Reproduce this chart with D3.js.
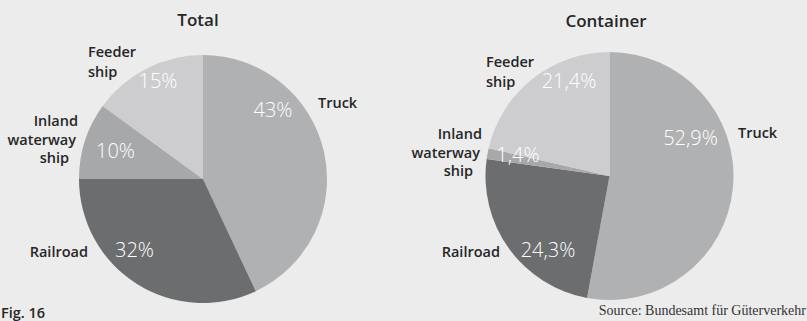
<!DOCTYPE html>
<html>
<head>
<meta charset="utf-8">
<script src="https://cdn.jsdelivr.net/npm/d3@7"></script>
<style>
  html, body { margin: 0; padding: 0; background: #ececec; }
  svg { display: block; }
  .name { font-family: "Open Sans", "Noto Sans", sans-serif; font-weight: 600; font-size: 14.5px; fill: #262626; }
  .title { font-family: "Open Sans", "Noto Sans", sans-serif; font-weight: 600; font-size: 17px; fill: #262626; }
  .pct { font-family: "Open Sans", sans-serif; font-weight: 300; font-size: 20px; fill: #ffffff; }
  .source { font-family: "Liberation Serif", serif; font-size: 14px; fill: #333; }
</style>
</head>
<body>
<svg id="chart" width="807" height="321"></svg>
<script>
// Modal split of hinterland transport, shares in percent
const categories = ["Truck", "Railroad", "Inland waterway ship", "Feeder ship"];
const totalShares = [43, 32, 10, 15];
const containerShares = [52.9, 24.3, 1.4, 21.4];
const chartTitles = ["Total", "Container"];
const sliceColors = ["#b0b1b3", "#6c6d6f", "#a7a8aa", "#cdcdcf"];

// Name lines for each category label
const nameLines = [["Truck"], ["Railroad"], ["Inland", "waterway", "ship"], ["Feeder", "ship"]];

const svg = d3.select("#chart");
const W = 807, H = 321;
svg.append("rect").attr("width", W).attr("height", H).attr("fill", "#ececec");

const radius = 124;

// Per-pie layout: centre, title position, name and percent label placement (relative to centre)
const layouts = [
  {
    cx: 203, cy: 179, titleX: 198, titleY: 26, decimals: 0,
    names: [
      { x: 115, y: -71, anchor: "start" },
      { x: -115, y: 78, anchor: "end" },
      { x: -125, y: -53, anchor: "end" },
      { x: -115, y: -122, anchor: "start" }
    ],
    pcts: [
      { x: 70, y: -62 },
      { x: -68.5, y: 78 },
      { x: -87.5, y: -21 },
      { x: -45, y: -91 }
    ]
  },
  {
    cx: 609.5, cy: 176, titleX: 606, titleY: 27, decimals: 1,
    names: [
      { x: 128.5, y: -38, anchor: "start" },
      { x: -109.5, y: 81, anchor: "end" },
      { x: -127.5, y: -37, anchor: "end" },
      { x: -123.5, y: -109, anchor: "start" }
    ],
    pcts: [
      { x: 81, y: -31 },
      { x: -61.5, y: 81 },
      { x: -91.5, y: -14 },
      { x: -40.5, y: -88 }
    ]
  }
];
// Right-ragged line offsets for three-line labels
const lineDx = [0, -2, -9];
const lineHeight = 18.5;

const pie = d3.pie().sort(null).value(d => d);
const arc = d3.arc().innerRadius(0).outerRadius(radius);

const fmt = (v, dec) => (dec ? d3.format("." + dec + "f")(v).replace(".", ",") : d3.format("d")(v)) + "%";

[totalShares, containerShares].forEach((shares, i) => {
  const L = layouts[i];
  const g = svg.append("g").attr("transform", `translate(${L.cx},${L.cy})`);
  const arcs = pie(shares);

  g.selectAll("path.slice").data(arcs).join("path")
    .attr("class", "slice")
    .attr("d", arc)
    .attr("fill", (d, j) => sliceColors[j]);

  // percent labels
  g.selectAll("text.pct").data(arcs).join("text")
    .attr("class", "pct")
    .attr("text-anchor", "middle")
    .attr("x", (d, j) => L.pcts[j].x)
    .attr("y", (d, j) => L.pcts[j].y)
    .text(d => fmt(d.data, L.decimals));

  // category names
  categories.forEach((c, j) => {
    const p = L.names[j];
    const t = g.append("text").attr("class", "name").attr("text-anchor", p.anchor);
    nameLines[j].forEach((line, k) => {
      t.append("tspan")
        .attr("x", p.x + (nameLines[j].length === 3 ? lineDx[k] : 0))
        .attr("y", p.y + k * lineHeight + (nameLines[j].length === 2 ? k * 1.5 : 0))
        .text(line);
    });
  });

  svg.append("text").attr("class", "title")
    .attr("x", L.titleX).attr("y", L.titleY)
    .attr("text-anchor", "middle")
    .text(chartTitles[i]);
});

svg.append("text").attr("class", "name")
  .attr("x", 1).attr("y", 318).attr("text-anchor", "start")
  .text("Fig. 16");

svg.append("text").attr("class", "source")
  .attr("x", 806).attr("y", 315).attr("text-anchor", "end")
  .text("Source: Bundesamt für Güterverkehr");
</script>
</body>
</html>
